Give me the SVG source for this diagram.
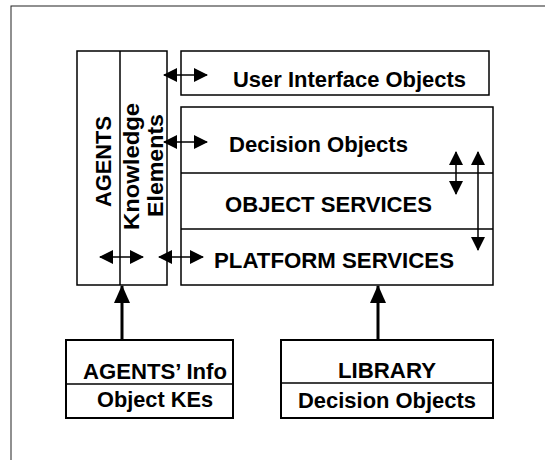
<svg xmlns="http://www.w3.org/2000/svg" width="545" height="460" viewBox="0 0 545 460">
  <style>
    .box { fill: #fff; stroke: #000; stroke-width: 1.5; }
    .box2 { fill: #fff; stroke: #000; stroke-width: 2; }
    .div { stroke: #000; stroke-width: 1.5; }
    .lbl { font-family: "Liberation Sans", Arial, sans-serif; font-weight: bold; font-size: 22px; fill: #000; }
    .vlbl { font-family: "Liberation Sans", Arial, sans-serif; font-weight: bold; font-size: 22.5px; fill: #000; }
    .link { stroke: #000; stroke-width: 1.5; fill: none; marker-start: url(#tip); marker-end: url(#tip); }
    .feed { stroke: #000; stroke-width: 3; fill: none; marker-end: url(#bigtip); }
  </style>
  <defs>
    <marker id="tip" viewBox="0 0 14 14" refX="13" refY="7" markerWidth="14" markerHeight="14" markerUnits="userSpaceOnUse" orient="auto-start-reverse">
      <path d="M0,0 L14,7 L0,14 z" fill="#000"/>
    </marker>
    <marker id="bigtip" viewBox="0 0 18 16" refX="17" refY="8" markerWidth="18" markerHeight="16" markerUnits="userSpaceOnUse" orient="auto">
      <path d="M0,0 L18,8 L0,16 z" fill="#000"/>
    </marker>
  </defs>

  <!-- page frame -->
  <rect x="11" y="6" width="600" height="500" fill="none" stroke="#222" stroke-width="1"/>

  <g id="agents">
    <rect class="box" x="77" y="51" width="90" height="234"/>
    <line class="div" x1="120" y1="51" x2="120" y2="285"/>
    <text class="vlbl" transform="translate(111,207) rotate(-90)" textLength="91" lengthAdjust="spacingAndGlyphs">AGENTS</text>
    <text class="vlbl" transform="translate(139,230) rotate(-90)" textLength="127" lengthAdjust="spacingAndGlyphs">Knowledge</text>
    <text class="vlbl" transform="translate(163,217) rotate(-90)" textLength="103" lengthAdjust="spacingAndGlyphs">Elements</text>
  </g>

  <g id="user-interface">
    <rect class="box" x="181" y="51" width="308" height="44"/>
    <text class="lbl" x="233" y="87" textLength="233" lengthAdjust="spacingAndGlyphs">User Interface Objects</text>
  </g>

  <g id="service-stack">
    <rect class="box" x="181" y="107" width="312" height="178"/>
    <line class="div" x1="181" y1="173" x2="493" y2="173"/>
    <line class="div" x1="181" y1="229" x2="493" y2="229"/>
    <text class="lbl" x="229" y="152" textLength="179" lengthAdjust="spacingAndGlyphs">Decision Objects</text>
    <text class="lbl" x="225" y="212" textLength="207" lengthAdjust="spacingAndGlyphs">OBJECT SERVICES</text>
    <text class="lbl" x="214" y="268" textLength="240" lengthAdjust="spacingAndGlyphs">PLATFORM SERVICES</text>
  </g>

  <g id="agents-info">
    <rect class="box2" x="66" y="340" width="167" height="78"/>
    <line class="div" x1="66" y1="384" x2="233" y2="384" stroke-width="2"/>
    <text class="lbl" x="83" y="379" textLength="144" lengthAdjust="spacingAndGlyphs">AGENTS’ Info</text>
    <text class="lbl" x="97" y="407" textLength="116" lengthAdjust="spacingAndGlyphs">Object KEs</text>
  </g>

  <g id="library">
    <rect class="box2" x="281" y="340" width="212" height="78"/>
    <line class="div" x1="281" y1="383" x2="493" y2="383" stroke-width="2"/>
    <text class="lbl" x="338" y="378" textLength="98" lengthAdjust="spacingAndGlyphs">LIBRARY</text>
    <text class="lbl" x="298" y="408" textLength="178" lengthAdjust="spacingAndGlyphs">Decision Objects</text>
  </g>

  <g id="connectors">
    <line class="link" x1="164" y1="75" x2="207" y2="75"/>
    <line class="link" x1="164" y1="142" x2="207" y2="142"/>
    <line class="link" x1="100" y1="257" x2="143" y2="257"/>
    <line class="link" x1="159" y1="257" x2="203" y2="257"/>
    <line class="link" x1="456" y1="152" x2="456" y2="194"/>
    <line class="link" x1="478" y1="152" x2="478" y2="250"/>
    <line class="feed" x1="122" y1="340" x2="122" y2="286"/>
    <line class="feed" x1="378" y1="340" x2="378" y2="286"/>
  </g>
</svg>
